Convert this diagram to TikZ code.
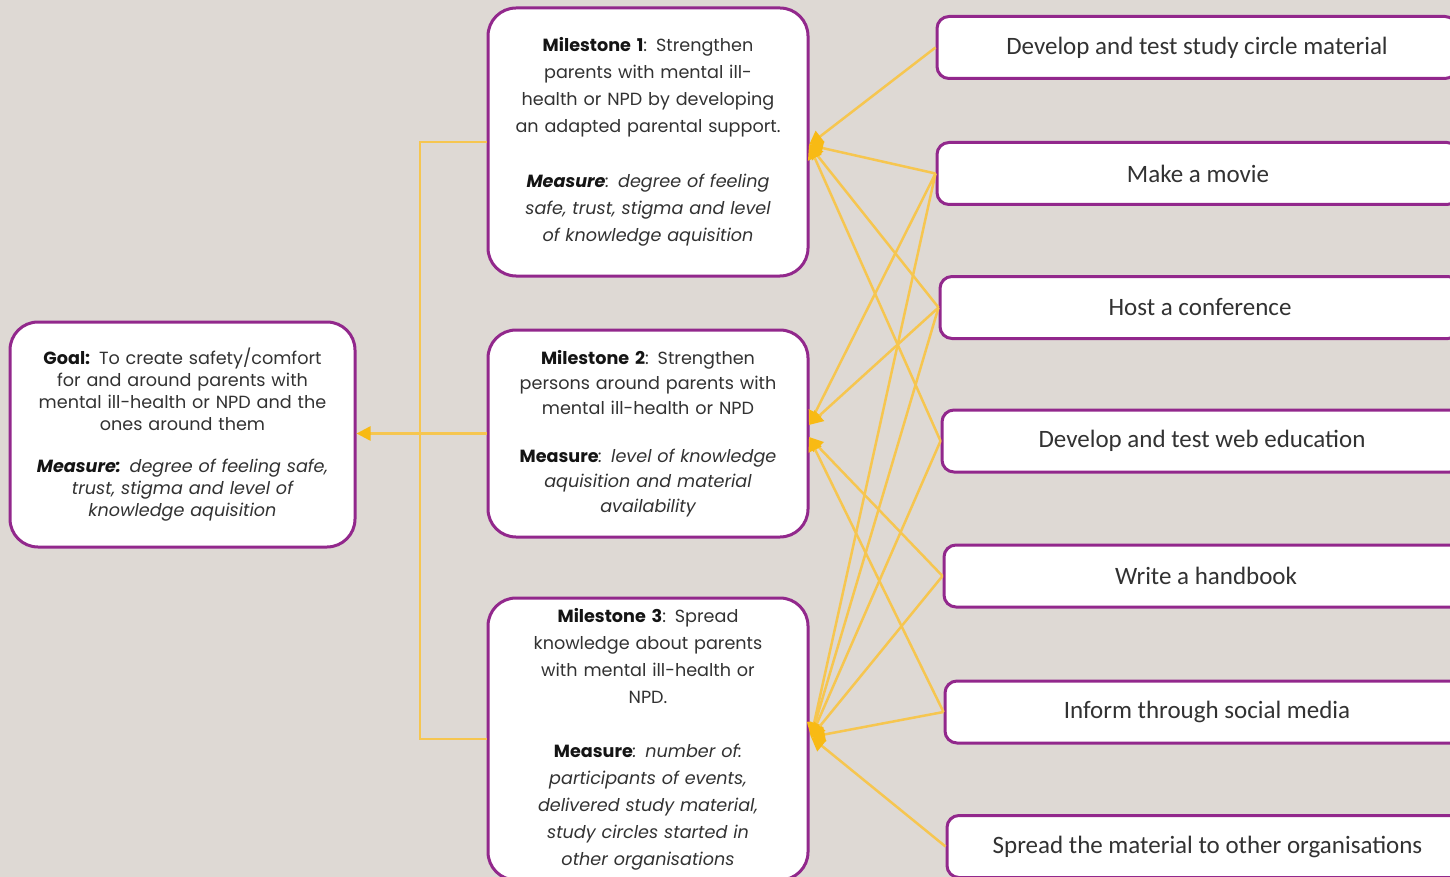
\documentclass[tikz,border=0pt]{standalone}
\usepackage{fontspec}
\setmainfont{Carlito}
\newfontfamily\lf{Poppins}
\usetikzlibrary{arrows.meta}
\definecolor{bg}{RGB}{222,217,212}
\definecolor{pur}{RGB}{146,40,140}
\definecolor{yel}{RGB}{246,198,80}
\definecolor{yeld}{RGB}{248,186,20}
\definecolor{txt}{RGB}{50,50,50}
\definecolor{bld}{RGB}{20,20,20}
\newcommand{\bl}[1]{{\color{bld}\bfseries #1}}
\newcommand{\bli}[1]{{\color{bld}\bfseries\itshape #1}}
\begin{document}
\begin{tikzpicture}[x=1pt,y=-1pt,
  box/.style={draw=pur, line width=3pt, fill=white, rounded corners=28pt, align=center, inner sep=0pt, text=txt, font=\lf\fontsize{17.6}{27}\selectfont},
  act/.style={draw=pur, line width=3pt, fill=white, rounded corners=12pt, inner sep=0pt, text=txt, font=\fontsize{25}{28}\selectfont, minimum height=62pt},
  conn/.style={draw=yel, line width=2.5pt},
  arr/.style={conn, -{Triangle[length=14pt,width=14pt,fill=yeld,color=yeld]}}]
\useasboundingbox (0,0) rectangle (1450,877);
\fill[bg] (0,0) rectangle (1450,877);

% goal and milestones
\node[box, minimum width=345pt, minimum height=225pt, text width=330pt, font=\lf\fontsize{17.6}{22}\selectfont] (goal) at (182.5,434.5)
 {\bl{Goal:} To create safety/comfort\\ for and around parents with\\ mental ill-health or NPD and the\\ ones around them\\[20pt]
  \bli{Measure:} \itshape degree of feeling safe,\\ \itshape trust, stigma and level of\\ \itshape knowledge aquisition};
\node[box, minimum width=320pt, minimum height=268pt, text width=305pt] (m1) at (648,142)
 {\bl{Milestone 1}: Strengthen\\ parents with mental ill-\\ health or NPD by developing\\ an adapted parental support.\\[28pt]
  \bli{Measure}\textit{: degree of feeling}\\ \itshape safe, trust, stigma and level\\ \itshape of knowledge aquisition};
\node[box, minimum width=320pt, minimum height=207pt, text width=305pt, font=\lf\fontsize{17.6}{25}\selectfont] (m2) at (648,433.5)
 {\bl{Milestone 2}: Strengthen\\ persons around parents with\\ mental ill-health or NPD\\[23pt]
  \bl{Measure}\textit{: level of knowledge}\\ \itshape aquisition and material\\ \itshape availability};
\node[box, minimum width=320pt, minimum height=282pt, text width=305pt] (m3) at (648,739)
 {\bl{Milestone 3}: Spread\\ knowledge about parents\\ with mental ill-health or\\ NPD.\\[27pt]
  \bl{Measure}\textit{: number of:}\\ \itshape participants of events,\\ \itshape delivered study material,\\ \itshape study circles started in\\ \itshape other organisations};

% activities
\node[act, minimum width=520pt] (a1) at (1197,47.5) {Develop and test study circle material};
\node[act, minimum width=522pt] (a2) at (1198,173.5) {Make a movie};
\node[act, minimum width=520pt] (a3) at (1200,307.5) {Host a conference};
\node[act, minimum width=520pt] (a4) at (1202,441) {Develop and test web education};
\node[act, minimum width=524pt] (a5) at (1206,576) {Write a handbook};
\node[act, minimum width=524pt] (a6) at (1207,712) {Inform through social media};
\node[act, minimum width=521pt] (a7) at (1207.5,846.5) {Spread the material to other organisations};

% trunk to goal
\coordinate (t1) at (420,142);
\coordinate (t3) at (420,739);
\draw[conn] (m1.west) -- (t1) -- (t3) -- (m3.west);
\draw[arr] (m2.west) -- (m2.west -| goal.east);

% connectors
\coordinate (m1p) at (809,145);
\coordinate (m2a) at (809,425);
\coordinate (m2b) at (809,437);
\coordinate (m3p) at (811,737);
\foreach \a in {a1,a2,a3,a4} \draw[arr] (\a.west) -- (m1p);
\foreach \a in {a2,a3} \draw[arr] (\a.west) -- (m2a);
\foreach \a in {a5,a6} \draw[arr] (\a.west) -- (m2b);
\foreach \a in {a2,a3,a4,a5,a6,a7} \draw[arr] (\a.west) -- (m3p);
\end{tikzpicture}
\end{document}
